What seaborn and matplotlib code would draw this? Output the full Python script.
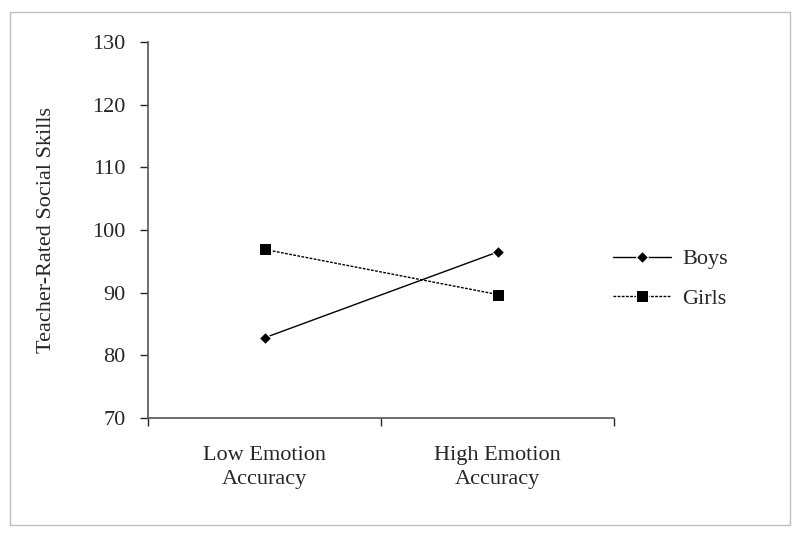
import pandas as pd
import seaborn as sns
import matplotlib.pyplot as plt
from matplotlib.patches import Rectangle

# values
conditions = ["Low Emotion\nAccuracy", "High Emotion\nAccuracy"]
boys = [82.8, 96.5]
girls = [96.9, 89.7]

df = pd.DataFrame({
    "Condition": conditions * 2,
    "Score": boys + girls,
    "Group": ["Boys"] * 2 + ["Girls"] * 2,
})

sns.set_style("ticks")
plt.rcParams["font.family"] = ["Liberation Serif", "DejaVu Serif"]

fig = plt.figure(figsize=(8, 5.38), dpi=100)
ax = fig.add_axes([0.185, 0.223, 0.583, 0.699])

sns.lineplot(data=df, x="Condition", y="Score", style="Group", hue="Group",
             palette={"Boys": "black", "Girls": "black"},
             markers={"Boys": "D", "Girls": "s"},
             dashes={"Boys": "", "Girls": (2, 1)},
             markersize=8, linewidth=1, ax=ax)
# smaller diamond as in the original
for line in ax.lines:
    if line.get_marker() == "D":
        line.set_markersize(6)
    else:
        line.set_markersize(9)

ax.set_xlim(-0.5, 1.5)
ax.set_ylim(70, 130)
ax.set_yticks(range(70, 131, 10))
ax.set_xticks([0, 1])
ax.set_xticklabels(conditions, fontsize=16, linespacing=1.35)
ax.set_xticks([-0.5, 0.5, 1.5], minor=True)
ax.tick_params(axis="x", which="major", length=0, pad=20)
ax.tick_params(axis="x", which="minor", length=6, width=1, direction="out")
ax.tick_params(axis="y", labelsize=16, length=6, width=1, direction="out", pad=10)
ax.set_xlabel("")
ax.set_ylabel("Teacher-Rated Social Skills", fontsize=16, labelpad=26)
for s in ["top", "right"]:
    ax.spines[s].set_visible(False)
for s in ["left", "bottom"]:
    ax.spines[s].set_color("#555555")
    ax.spines[s].set_linewidth(1.2)

handles, labels = ax.get_legend_handles_labels()
for h in handles:
    if h.get_marker() == "D":
        h.set_markersize(6)
    else:
        h.set_markersize(8)
ax.legend(handles, labels, frameon=False, fontsize=16, loc="center left",
          bbox_to_anchor=(0.955, 0.37), handlelength=2.6, labelspacing=0.85,
          handletextpad=0.5)

# grey frame around the whole figure
fig.patches.append(Rectangle((0.013, 0.025), 0.975, 0.952, transform=fig.transFigure,
                             fill=False, edgecolor="#bdbdbd", linewidth=1))

fig.savefig("out.png", dpi=100)
